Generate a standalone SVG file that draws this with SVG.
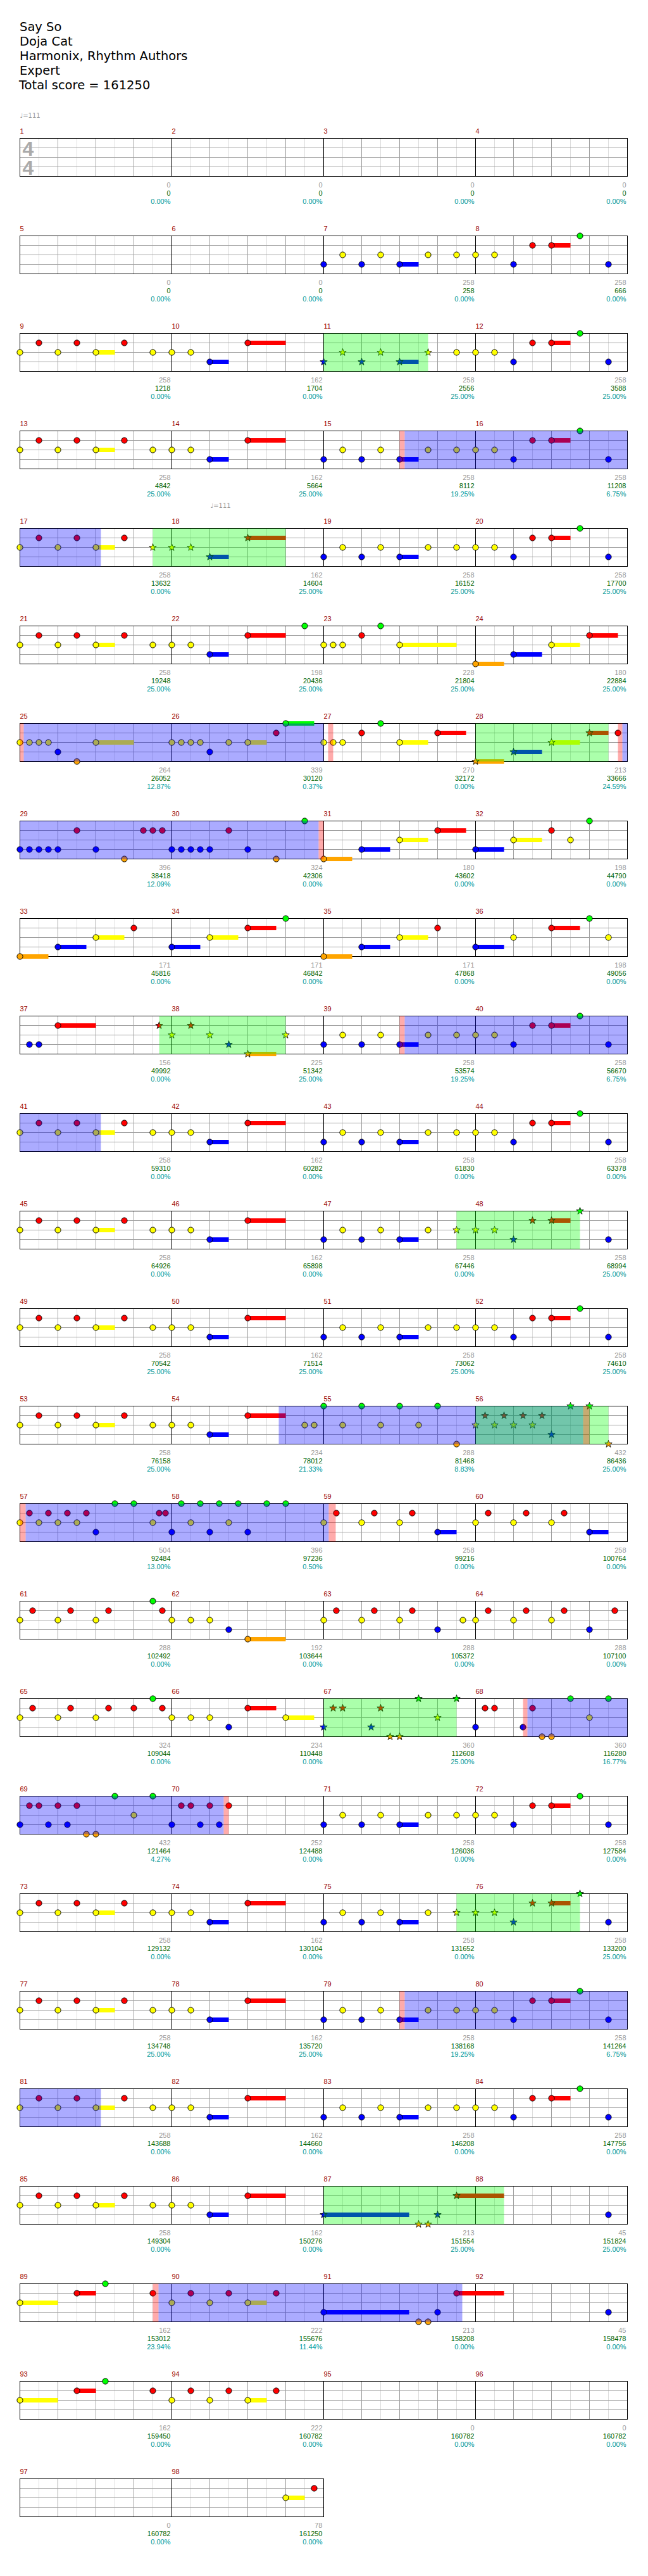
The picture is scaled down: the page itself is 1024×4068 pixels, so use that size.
<svg xmlns="http://www.w3.org/2000/svg" xmlns:xlink="http://www.w3.org/1999/xlink" width="1024" height="4068" viewBox="0 0 1024 4068">
<style>
.t{font:19.5px "DejaVu Sans",sans-serif;fill:#000}
.tp{font:10px "DejaVu Sans",sans-serif;fill:#999}
.ts{font:bold 32px "Liberation Sans",Arial,sans-serif;fill:#aaa}
.ml{font:11px "Liberation Sans",Arial,sans-serif;fill:#900}
.n{font:11px "Liberation Sans",Arial,sans-serif;text-anchor:end}
.a{fill:#999}.s{fill:#006400}.p{fill:#099}
.sr{stroke:#f00;stroke-width:7}.sy{stroke:#ff0;stroke-width:7}.sb{stroke:#00f;stroke-width:7}.sk{stroke:#ffa500;stroke-width:7}.sg{stroke:#0f0;stroke-width:7}
.solo{fill:#00f;fill-opacity:.33}.spr{fill:#0f0;fill-opacity:.33}.pk{fill:#f00;fill-opacity:.33}
</style>
<defs>
<g id="staff4">
<rect width="960" height="60" fill="#fff"/>
<path d="M30 0v60M90 0v60M150 0v60M210 0v60M270 0v60M330 0v60M390 0v60M450 0v60M510 0v60M570 0v60M630 0v60M690 0v60M750 0v60M810 0v60M870 0v60M930 0v60" stroke="#ddd"/>
<path d="M0 15h960M0 30h960M0 45h960M60 0v60M120 0v60M180 0v60M300 0v60M360 0v60M420 0v60M540 0v60M600 0v60M660 0v60M780 0v60M840 0v60M900 0v60" stroke="#a0a0a0"/>
<path d="M240 0v60M480 0v60M720 0v60" stroke="#000"/>
<rect width="960" height="60" fill="none" stroke="#000"/>
</g>
<g id="staff2">
<rect width="480" height="60" fill="#fff"/>
<path d="M30 0v60M90 0v60M150 0v60M210 0v60M270 0v60M330 0v60M390 0v60M450 0v60" stroke="#ddd"/>
<path d="M0 15h480M0 30h480M0 45h480M60 0v60M120 0v60M180 0v60M300 0v60M360 0v60M420 0v60" stroke="#a0a0a0"/>
<path d="M240 0v60" stroke="#000"/>
<rect width="480" height="60" fill="none" stroke="#000"/>
</g>
<circle id="G" r="4.6" fill="#0f0" stroke="#000"/>
<circle id="R" cy="15" r="4.6" fill="#f00" stroke="#000"/>
<circle id="Y" cy="30" r="4.6" fill="#ff0" stroke="#000"/>
<circle id="B" cy="45" r="4.6" fill="#00f" stroke="#000"/>
<circle id="O" cy="60" r="4.6" fill="#ffa500" stroke="#000"/>
<path id="st" d="M0,-6L1.41,-1.94L5.71,-1.85L2.28,0.74L3.53,4.85L0,2.4L-3.53,4.85L-2.28,0.74L-5.71,-1.85L-1.41,-1.94Z" stroke="#000" stroke-width="0.8"/>
<use id="sG" href="#st" fill="#0f0"/>
<use id="sR" href="#st" y="15" fill="#f00"/>
<use id="sY" href="#st" y="30" fill="#ff0"/>
<use id="sB" href="#st" y="45" fill="#00f"/>
<use id="sO" href="#st" y="60" fill="#ffa500"/>
<g id="P1">
<path class="sy" d="M120 30h30"/><path class="sb" d="M300 45h30"/><path class="sr" d="M360 15h60"/>
<use href="#Y"/><use href="#R" x="30"/><use href="#Y" x="60"/><use href="#R" x="90"/><use href="#Y" x="120"/><use href="#R" x="165"/><use href="#Y" x="210"/><use href="#Y" x="240"/><use href="#Y" x="270"/><use href="#B" x="300"/><use href="#R" x="360"/>
</g>
<g id="P2">
<path class="sb" d="M120 45h30"/><path class="sr" d="M360 15h30"/>
<use href="#B"/><use href="#Y" x="30"/><use href="#B" x="60"/><use href="#Y" x="90"/><use href="#B" x="120"/><use href="#Y" x="165"/><use href="#Y" x="210"/><use href="#Y" x="240"/><use href="#Y" x="270"/><use href="#B" x="300"/><use href="#R" x="330"/><use href="#R" x="360"/><use href="#G" x="405"/><use href="#B" x="450"/>
</g>
<g id="H12">
<path class="sb" d="M600 45h30"/><path class="sr" d="M840 15h30"/>
<use href="#B" x="480"/><use href="#Y" x="510"/><use href="#B" x="540"/><use href="#Y" x="570"/><use href="#B" x="600"/><use href="#Y" x="645"/>
<use href="#sY" x="690"/><use href="#sY" x="720"/><use href="#sY" x="750"/><use href="#sB" x="780"/><use href="#sR" x="810"/><use href="#sR" x="840"/><use href="#sG" x="885"/><use href="#B" x="930"/>
<rect class="spr" x="690" width="195" height="60"/>
</g>
</defs>
<rect width="1024" height="4068" fill="#fff"/>
<g id="header">
<text class="t" x="31" y="49">Say So</text>
<text class="t" x="31" y="72">Doja Cat</text>
<text class="t" x="31" y="95">Harmonix, Rhythm Authors</text>
<text class="t" x="31" y="118">Expert</text>
<text class="t" x="30" y="141">Total score = 161250</text>
</g>

<g id="row1" transform="translate(31.5 218.5)">
<use href="#staff4"/>
<text class="ts" x="4" y="27">4</text><text class="ts" x="4" y="57">4</text>
<text class="tp" x="0" y="-33">♩=111</text>
<text class="ml" x="0" y="-8">1</text><text class="ml" x="240" y="-8">2</text><text class="ml" x="480" y="-8">3</text><text class="ml" x="720" y="-8">4</text>
<g class="n"><text class="a" x="238" y="77">0</text><text class="s" x="238" y="90">0</text><text class="p" x="238" y="103">0.00%</text><text class="a" x="478" y="77">0</text><text class="s" x="478" y="90">0</text><text class="p" x="478" y="103">0.00%</text><text class="a" x="718" y="77">0</text><text class="s" x="718" y="90">0</text><text class="p" x="718" y="103">0.00%</text><text class="a" x="958" y="77">0</text><text class="s" x="958" y="90">0</text><text class="p" x="958" y="103">0.00%</text></g>
</g>

<g id="row2" transform="translate(31.5 372.5)">
<use href="#staff4"/>
<use href="#P2" x="480"/>
<text class="ml" x="0" y="-8">5</text><text class="ml" x="240" y="-8">6</text><text class="ml" x="480" y="-8">7</text><text class="ml" x="720" y="-8">8</text>
<g class="n"><text class="a" x="238" y="77">0</text><text class="s" x="238" y="90">0</text><text class="p" x="238" y="103">0.00%</text><text class="a" x="478" y="77">0</text><text class="s" x="478" y="90">0</text><text class="p" x="478" y="103">0.00%</text><text class="a" x="718" y="77">258</text><text class="s" x="718" y="90">258</text><text class="p" x="718" y="103">0.00%</text><text class="a" x="958" y="77">258</text><text class="s" x="958" y="90">666</text><text class="p" x="958" y="103">0.00%</text></g>
</g>

<g id="row3" transform="translate(31.5 526.5)">
<use href="#staff4"/>
<use href="#P1"/>
<path class="sb" d="M600 45h30"/><path class="sr" d="M840 15h30"/>
<use href="#sB" x="480"/><use href="#sY" x="510"/><use href="#sB" x="540"/><use href="#sY" x="570"/><use href="#sB" x="600"/><use href="#sY" x="645"/>
<use href="#Y" x="690"/><use href="#Y" x="720"/><use href="#Y" x="750"/><use href="#B" x="780"/><use href="#R" x="810"/><use href="#R" x="840"/><use href="#G" x="885"/><use href="#B" x="930"/>
<rect class="spr" x="480" width="165" height="60"/>
<text class="ml" x="0" y="-8">9</text><text class="ml" x="240" y="-8">10</text><text class="ml" x="480" y="-8">11</text><text class="ml" x="720" y="-8">12</text>
<g class="n"><text class="a" x="238" y="77">258</text><text class="s" x="238" y="90">1218</text><text class="p" x="238" y="103">0.00%</text><text class="a" x="478" y="77">162</text><text class="s" x="478" y="90">1704</text><text class="p" x="478" y="103">0.00%</text><text class="a" x="718" y="77">258</text><text class="s" x="718" y="90">2556</text><text class="p" x="718" y="103">25.00%</text><text class="a" x="958" y="77">258</text><text class="s" x="958" y="90">3588</text><text class="p" x="958" y="103">25.00%</text></g>
</g>

<g id="row4" transform="translate(31.5 680.5)">
<use href="#staff4"/>
<use href="#P1"/><use href="#P2" x="480"/>
<rect class="pk" x="600" width="8" height="60"/><rect class="solo" x="608" width="352" height="60"/>
<text class="ml" x="0" y="-8">13</text><text class="ml" x="240" y="-8">14</text><text class="ml" x="480" y="-8">15</text><text class="ml" x="720" y="-8">16</text>
<g class="n"><text class="a" x="238" y="77">258</text><text class="s" x="238" y="90">4842</text><text class="p" x="238" y="103">25.00%</text><text class="a" x="478" y="77">162</text><text class="s" x="478" y="90">5664</text><text class="p" x="478" y="103">25.00%</text><text class="a" x="718" y="77">258</text><text class="s" x="718" y="90">8112</text><text class="p" x="718" y="103">19.25%</text><text class="a" x="958" y="77">258</text><text class="s" x="958" y="90">11208</text><text class="p" x="958" y="103">6.75%</text></g>
</g>

<g id="row5" transform="translate(31.5 834.5)">
<use href="#staff4"/>
<text class="tp" x="301" y="-33">♩=111</text>
<path class="sy" d="M120 30h30"/><path class="sb" d="M300 45h30"/><path class="sr" d="M360 15h60"/>
<use href="#Y"/><use href="#R" x="30"/><use href="#Y" x="60"/><use href="#R" x="90"/><use href="#Y" x="120"/><use href="#R" x="165"/>
<use href="#sY" x="210"/><use href="#sY" x="240"/><use href="#sY" x="270"/><use href="#sB" x="300"/><use href="#sR" x="360"/>
<use href="#P2" x="480"/>
<rect class="solo" x="0" width="128" height="60"/><rect class="spr" x="210" width="210" height="60"/>
<text class="ml" x="0" y="-8">17</text><text class="ml" x="240" y="-8">18</text><text class="ml" x="480" y="-8">19</text><text class="ml" x="720" y="-8">20</text>
<g class="n"><text class="a" x="238" y="77">258</text><text class="s" x="238" y="90">13632</text><text class="p" x="238" y="103">0.00%</text><text class="a" x="478" y="77">162</text><text class="s" x="478" y="90">14604</text><text class="p" x="478" y="103">25.00%</text><text class="a" x="718" y="77">258</text><text class="s" x="718" y="90">16152</text><text class="p" x="718" y="103">25.00%</text><text class="a" x="958" y="77">258</text><text class="s" x="958" y="90">17700</text><text class="p" x="958" y="103">25.00%</text></g>
</g>

<g id="row6" transform="translate(31.5 988.5)">
<use href="#staff4"/>
<use href="#P1"/><use href="#G" x="450"/>
<path class="sy" d="M600 30h90"/><path class="sk" d="M720 60h45"/><path class="sb" d="M780 45h45"/><path class="sy" d="M840 30h45"/><path class="sr" d="M900 15h45"/>
<use href="#Y" x="480"/><use href="#Y" x="495"/><use href="#Y" x="510"/><use href="#R" x="540"/><use href="#G" x="570"/><use href="#Y" x="600"/><use href="#O" x="720"/><use href="#B" x="780"/><use href="#Y" x="840"/><use href="#R" x="900"/>
<text class="ml" x="0" y="-8">21</text><text class="ml" x="240" y="-8">22</text><text class="ml" x="480" y="-8">23</text><text class="ml" x="720" y="-8">24</text>
<g class="n"><text class="a" x="238" y="77">258</text><text class="s" x="238" y="90">19248</text><text class="p" x="238" y="103">25.00%</text><text class="a" x="478" y="77">198</text><text class="s" x="478" y="90">20436</text><text class="p" x="478" y="103">25.00%</text><text class="a" x="718" y="77">228</text><text class="s" x="718" y="90">21804</text><text class="p" x="718" y="103">25.00%</text><text class="a" x="958" y="77">180</text><text class="s" x="958" y="90">22884</text><text class="p" x="958" y="103">25.00%</text></g>
</g>

<g id="row7" transform="translate(31.5 1142.5)">
<use href="#staff4"/>
<path class="sy" d="M120 30h60"/><path class="sy" d="M360 30h30"/><path class="sg" d="M420 0h45"/><path class="sy" d="M600 30h45"/><path class="sr" d="M660 15h45"/><path class="sk" d="M720 60h45"/><path class="sb" d="M780 45h45"/><path class="sy" d="M840 30h45"/><path class="sr" d="M900 15h30"/>
<use href="#Y"/><use href="#Y" x="15"/><use href="#Y" x="30"/><use href="#Y" x="45"/><use href="#B" x="60"/><use href="#O" x="90"/><use href="#Y" x="120"/><use href="#Y" x="240"/><use href="#Y" x="255"/><use href="#Y" x="270"/><use href="#Y" x="285"/><use href="#B" x="300"/><use href="#Y" x="330"/><use href="#Y" x="360"/><use href="#R" x="405"/><use href="#G" x="420"/>
<use href="#Y" x="480"/><use href="#Y" x="495"/><use href="#Y" x="510"/><use href="#R" x="540"/><use href="#G" x="570"/><use href="#Y" x="600"/><use href="#R" x="660"/>
<use href="#sO" x="720"/><use href="#sB" x="780"/><use href="#sY" x="840"/><use href="#sR" x="900"/><use href="#R" x="945"/>
<rect class="pk" x="0" width="6" height="60"/><rect class="solo" x="6" width="474" height="60"/><rect class="pk" x="487" width="8" height="60"/><rect class="spr" x="720" width="210" height="60"/><rect class="pk" x="945" width="7" height="60"/><rect class="solo" x="952" width="8" height="60"/>
<text class="ml" x="0" y="-8">25</text><text class="ml" x="240" y="-8">26</text><text class="ml" x="480" y="-8">27</text><text class="ml" x="720" y="-8">28</text>
<g class="n"><text class="a" x="238" y="77">264</text><text class="s" x="238" y="90">26052</text><text class="p" x="238" y="103">12.87%</text><text class="a" x="478" y="77">339</text><text class="s" x="478" y="90">30120</text><text class="p" x="478" y="103">0.37%</text><text class="a" x="718" y="77">270</text><text class="s" x="718" y="90">32172</text><text class="p" x="718" y="103">0.00%</text><text class="a" x="958" y="77">213</text><text class="s" x="958" y="90">33666</text><text class="p" x="958" y="103">24.59%</text></g>
</g>

<g id="row8" transform="translate(31.5 1296.5)">
<use href="#staff4"/>
<path class="sk" d="M480 60h45"/><path class="sb" d="M540 45h45"/><path class="sy" d="M600 30h45"/><path class="sr" d="M660 15h45"/><path class="sb" d="M720 45h45"/><path class="sy" d="M780 30h45"/>
<use href="#B"/><use href="#B" x="15"/><use href="#B" x="30"/><use href="#B" x="45"/><use href="#B" x="60"/><use href="#R" x="90"/><use href="#B" x="120"/><use href="#O" x="165"/><use href="#R" x="195"/><use href="#R" x="210"/><use href="#R" x="225"/><use href="#B" x="240"/><use href="#B" x="255"/><use href="#B" x="270"/><use href="#B" x="285"/><use href="#B" x="300"/><use href="#R" x="330"/><use href="#B" x="360"/><use href="#O" x="405"/><use href="#G" x="450"/>
<use href="#O" x="480"/><use href="#B" x="540"/><use href="#Y" x="600"/><use href="#R" x="660"/><use href="#B" x="720"/><use href="#Y" x="780"/><use href="#R" x="840"/><use href="#Y" x="870"/><use href="#G" x="900"/>
<rect class="solo" x="0" width="472" height="60"/><rect class="pk" x="472" width="8" height="60"/>
<text class="ml" x="0" y="-8">29</text><text class="ml" x="240" y="-8">30</text><text class="ml" x="480" y="-8">31</text><text class="ml" x="720" y="-8">32</text>
<g class="n"><text class="a" x="238" y="77">396</text><text class="s" x="238" y="90">38418</text><text class="p" x="238" y="103">12.09%</text><text class="a" x="478" y="77">324</text><text class="s" x="478" y="90">42306</text><text class="p" x="478" y="103">0.00%</text><text class="a" x="718" y="77">180</text><text class="s" x="718" y="90">43602</text><text class="p" x="718" y="103">0.00%</text><text class="a" x="958" y="77">198</text><text class="s" x="958" y="90">44790</text><text class="p" x="958" y="103">0.00%</text></g>
</g>

<g id="row9" transform="translate(31.5 1450.5)">
<use href="#staff4"/>
<path class="sk" d="M0 60h45"/><path class="sb" d="M60 45h45"/><path class="sy" d="M120 30h45"/><path class="sb" d="M240 45h45"/><path class="sy" d="M300 30h45"/><path class="sr" d="M360 15h45"/><path class="sk" d="M480 60h45"/><path class="sb" d="M540 45h45"/><path class="sy" d="M600 30h45"/><path class="sb" d="M720 45h45"/><path class="sr" d="M840 15h45"/>
<use href="#O"/><use href="#B" x="60"/><use href="#Y" x="120"/><use href="#R" x="180"/><use href="#B" x="240"/><use href="#Y" x="300"/><use href="#R" x="360"/><use href="#G" x="420"/><use href="#O" x="480"/><use href="#B" x="540"/><use href="#Y" x="600"/><use href="#R" x="660"/><use href="#B" x="720"/><use href="#Y" x="780"/><use href="#R" x="840"/><use href="#G" x="900"/><use href="#Y" x="930"/>
<text class="ml" x="0" y="-8">33</text><text class="ml" x="240" y="-8">34</text><text class="ml" x="480" y="-8">35</text><text class="ml" x="720" y="-8">36</text>
<g class="n"><text class="a" x="238" y="77">171</text><text class="s" x="238" y="90">45816</text><text class="p" x="238" y="103">0.00%</text><text class="a" x="478" y="77">171</text><text class="s" x="478" y="90">46842</text><text class="p" x="478" y="103">0.00%</text><text class="a" x="718" y="77">171</text><text class="s" x="718" y="90">47868</text><text class="p" x="718" y="103">0.00%</text><text class="a" x="958" y="77">198</text><text class="s" x="958" y="90">49056</text><text class="p" x="958" y="103">0.00%</text></g>
</g>

<g id="row10" transform="translate(31.5 1604.5)">
<use href="#staff4"/>
<path class="sr" d="M60 15h60"/><path class="sk" d="M360 60h45"/>
<use href="#B" x="15"/><use href="#B" x="30"/><use href="#R" x="60"/>
<use href="#sR" x="220"/><use href="#sY" x="240"/><use href="#sR" x="270"/><use href="#sY" x="300"/><use href="#sB" x="330"/><use href="#sO" x="360"/><use href="#sY" x="420"/>
<use href="#P2" x="480"/>
<rect class="spr" x="220" width="200" height="60"/><rect class="pk" x="600" width="8" height="60"/><rect class="solo" x="608" width="352" height="60"/>
<text class="ml" x="0" y="-8">37</text><text class="ml" x="240" y="-8">38</text><text class="ml" x="480" y="-8">39</text><text class="ml" x="720" y="-8">40</text>
<g class="n"><text class="a" x="238" y="77">156</text><text class="s" x="238" y="90">49992</text><text class="p" x="238" y="103">0.00%</text><text class="a" x="478" y="77">225</text><text class="s" x="478" y="90">51342</text><text class="p" x="478" y="103">25.00%</text><text class="a" x="718" y="77">258</text><text class="s" x="718" y="90">53574</text><text class="p" x="718" y="103">19.25%</text><text class="a" x="958" y="77">258</text><text class="s" x="958" y="90">56670</text><text class="p" x="958" y="103">6.75%</text></g>
</g>

<g id="row11" transform="translate(31.5 1758.5)">
<use href="#staff4"/>
<use href="#P1"/><use href="#P2" x="480"/>
<rect class="solo" x="0" width="128" height="60"/>
<text class="ml" x="0" y="-8">41</text><text class="ml" x="240" y="-8">42</text><text class="ml" x="480" y="-8">43</text><text class="ml" x="720" y="-8">44</text>
<g class="n"><text class="a" x="238" y="77">258</text><text class="s" x="238" y="90">59310</text><text class="p" x="238" y="103">0.00%</text><text class="a" x="478" y="77">162</text><text class="s" x="478" y="90">60282</text><text class="p" x="478" y="103">0.00%</text><text class="a" x="718" y="77">258</text><text class="s" x="718" y="90">61830</text><text class="p" x="718" y="103">0.00%</text><text class="a" x="958" y="77">258</text><text class="s" x="958" y="90">63378</text><text class="p" x="958" y="103">0.00%</text></g>
</g>

<g id="row12" transform="translate(31.5 1912.5)">
<use href="#staff4"/>
<use href="#P1"/><use href="#H12"/>
<text class="ml" x="0" y="-8">45</text><text class="ml" x="240" y="-8">46</text><text class="ml" x="480" y="-8">47</text><text class="ml" x="720" y="-8">48</text>
<g class="n"><text class="a" x="238" y="77">258</text><text class="s" x="238" y="90">64926</text><text class="p" x="238" y="103">0.00%</text><text class="a" x="478" y="77">162</text><text class="s" x="478" y="90">65898</text><text class="p" x="478" y="103">0.00%</text><text class="a" x="718" y="77">258</text><text class="s" x="718" y="90">67446</text><text class="p" x="718" y="103">0.00%</text><text class="a" x="958" y="77">258</text><text class="s" x="958" y="90">68994</text><text class="p" x="958" y="103">25.00%</text></g>
</g>

<g id="row13" transform="translate(31.5 2066.5)">
<use href="#staff4"/>
<use href="#P1"/><use href="#P2" x="480"/>
<text class="ml" x="0" y="-8">49</text><text class="ml" x="240" y="-8">50</text><text class="ml" x="480" y="-8">51</text><text class="ml" x="720" y="-8">52</text>
<g class="n"><text class="a" x="238" y="77">258</text><text class="s" x="238" y="90">70542</text><text class="p" x="238" y="103">25.00%</text><text class="a" x="478" y="77">162</text><text class="s" x="478" y="90">71514</text><text class="p" x="478" y="103">25.00%</text><text class="a" x="718" y="77">258</text><text class="s" x="718" y="90">73062</text><text class="p" x="718" y="103">25.00%</text><text class="a" x="958" y="77">258</text><text class="s" x="958" y="90">74610</text><text class="p" x="958" y="103">25.00%</text></g>
</g>

<g id="row14" transform="translate(31.5 2220.5)">
<use href="#staff4"/>
<use href="#P1"/>
<use href="#Y" x="450"/><use href="#Y" x="465"/><use href="#G" x="480"/><use href="#Y" x="510"/><use href="#G" x="540"/><use href="#Y" x="570"/><use href="#G" x="600"/><use href="#Y" x="630"/><use href="#G" x="660"/><use href="#O" x="690"/>
<use href="#sY" x="720"/><use href="#sR" x="735"/><use href="#sY" x="750"/><use href="#sR" x="765"/><use href="#sY" x="780"/><use href="#sR" x="795"/><use href="#sY" x="810"/><use href="#sR" x="825"/><use href="#sB" x="840"/><use href="#sG" x="870"/><use href="#sG" x="900"/><use href="#sO" x="930"/>
<rect class="solo" x="409" width="481" height="60"/><rect class="spr" x="720" width="210" height="60"/><rect class="pk" x="890" width="10" height="60"/>
<text class="ml" x="0" y="-8">53</text><text class="ml" x="240" y="-8">54</text><text class="ml" x="480" y="-8">55</text><text class="ml" x="720" y="-8">56</text>
<g class="n"><text class="a" x="238" y="77">258</text><text class="s" x="238" y="90">76158</text><text class="p" x="238" y="103">25.00%</text><text class="a" x="478" y="77">234</text><text class="s" x="478" y="90">78012</text><text class="p" x="478" y="103">21.33%</text><text class="a" x="718" y="77">288</text><text class="s" x="718" y="90">81468</text><text class="p" x="718" y="103">8.83%</text><text class="a" x="958" y="77">432</text><text class="s" x="958" y="90">86436</text><text class="p" x="958" y="103">25.00%</text></g>
</g>

<g id="row15" transform="translate(31.5 2374.5)">
<use href="#staff4"/>
<path class="sb" d="M660 45h30"/><path class="sb" d="M900 45h30"/>
<use href="#Y"/><use href="#R" x="15"/><use href="#Y" x="30"/><use href="#R" x="45"/><use href="#Y" x="60"/><use href="#R" x="75"/><use href="#Y" x="90"/><use href="#R" x="105"/><use href="#B" x="120"/><use href="#G" x="150"/><use href="#G" x="180"/><use href="#Y" x="210"/><use href="#R" x="220"/><use href="#R" x="230"/><use href="#B" x="240"/><use href="#G" x="255"/><use href="#Y" x="270"/><use href="#G" x="285"/><use href="#B" x="300"/><use href="#G" x="315"/><use href="#Y" x="330"/><use href="#G" x="345"/><use href="#B" x="360"/><use href="#G" x="390"/><use href="#G" x="420"/>
<use href="#Y" x="480"/><use href="#R" x="500"/><use href="#Y" x="540"/><use href="#R" x="560"/><use href="#Y" x="600"/><use href="#R" x="620"/><use href="#B" x="660"/><use href="#Y" x="720"/><use href="#R" x="740"/><use href="#Y" x="780"/><use href="#R" x="800"/><use href="#Y" x="840"/><use href="#R" x="860"/><use href="#B" x="900"/>
<rect class="pk" x="0" width="9" height="60"/><rect class="solo" x="9" width="479" height="60"/><rect class="pk" x="488" width="11" height="60"/>
<text class="ml" x="0" y="-8">57</text><text class="ml" x="240" y="-8">58</text><text class="ml" x="480" y="-8">59</text><text class="ml" x="720" y="-8">60</text>
<g class="n"><text class="a" x="238" y="77">504</text><text class="s" x="238" y="90">92484</text><text class="p" x="238" y="103">13.00%</text><text class="a" x="478" y="77">396</text><text class="s" x="478" y="90">97236</text><text class="p" x="478" y="103">0.50%</text><text class="a" x="718" y="77">258</text><text class="s" x="718" y="90">99216</text><text class="p" x="718" y="103">0.00%</text><text class="a" x="958" y="77">258</text><text class="s" x="958" y="90">100764</text><text class="p" x="958" y="103">0.00%</text></g>
</g>

<g id="row16" transform="translate(31.5 2528.5)">
<use href="#staff4"/>
<path class="sk" d="M360 60h60"/>
<use href="#Y"/><use href="#R" x="20"/><use href="#Y" x="60"/><use href="#R" x="80"/><use href="#Y" x="120"/><use href="#R" x="140"/><use href="#G" x="210"/><use href="#R" x="225"/><use href="#Y" x="240"/><use href="#Y" x="270"/><use href="#Y" x="300"/><use href="#B" x="330"/><use href="#O" x="360"/>
<use href="#Y" x="480"/><use href="#R" x="500"/><use href="#Y" x="540"/><use href="#R" x="560"/><use href="#Y" x="600"/><use href="#R" x="620"/><use href="#B" x="660"/><use href="#Y" x="700"/><use href="#Y" x="720"/><use href="#R" x="740"/><use href="#Y" x="780"/><use href="#R" x="800"/><use href="#Y" x="840"/><use href="#R" x="860"/><use href="#B" x="900"/><use href="#R" x="940"/>
<text class="ml" x="0" y="-8">61</text><text class="ml" x="240" y="-8">62</text><text class="ml" x="480" y="-8">63</text><text class="ml" x="720" y="-8">64</text>
<g class="n"><text class="a" x="238" y="77">288</text><text class="s" x="238" y="90">102492</text><text class="p" x="238" y="103">0.00%</text><text class="a" x="478" y="77">192</text><text class="s" x="478" y="90">103644</text><text class="p" x="478" y="103">0.00%</text><text class="a" x="718" y="77">288</text><text class="s" x="718" y="90">105372</text><text class="p" x="718" y="103">0.00%</text><text class="a" x="958" y="77">288</text><text class="s" x="958" y="90">107100</text><text class="p" x="958" y="103">0.00%</text></g>
</g>

<g id="row17" transform="translate(31.5 2682.5)">
<use href="#staff4"/>
<path class="sr" d="M360 15h45"/><path class="sy" d="M420 30h45"/>
<use href="#Y"/><use href="#R" x="20"/><use href="#Y" x="60"/><use href="#R" x="80"/><use href="#Y" x="120"/><use href="#R" x="140"/><use href="#R" x="180"/><use href="#G" x="210"/><use href="#R" x="225"/><use href="#Y" x="240"/><use href="#Y" x="270"/><use href="#Y" x="300"/><use href="#B" x="330"/><use href="#R" x="360"/><use href="#Y" x="420"/>
<use href="#sB" x="480"/><use href="#sR" x="495"/><use href="#sR" x="510"/><use href="#sB" x="555"/><use href="#sR" x="570"/><use href="#sO" x="585"/><use href="#sO" x="600"/><use href="#sG" x="630"/><use href="#sY" x="660"/><use href="#sG" x="690"/>
<use href="#B" x="720"/><use href="#R" x="735"/><use href="#R" x="750"/><use href="#B" x="795"/><use href="#R" x="810"/><use href="#O" x="825"/><use href="#O" x="840"/><use href="#G" x="870"/><use href="#Y" x="900"/><use href="#G" x="930"/>
<rect class="spr" x="480" width="210" height="60"/><rect class="pk" x="795" width="7" height="60"/><rect class="solo" x="802" width="158" height="60"/>
<text class="ml" x="0" y="-8">65</text><text class="ml" x="240" y="-8">66</text><text class="ml" x="480" y="-8">67</text><text class="ml" x="720" y="-8">68</text>
<g class="n"><text class="a" x="238" y="77">324</text><text class="s" x="238" y="90">109044</text><text class="p" x="238" y="103">0.00%</text><text class="a" x="478" y="77">234</text><text class="s" x="478" y="90">110448</text><text class="p" x="478" y="103">0.00%</text><text class="a" x="718" y="77">360</text><text class="s" x="718" y="90">112608</text><text class="p" x="718" y="103">25.00%</text><text class="a" x="958" y="77">360</text><text class="s" x="958" y="90">116280</text><text class="p" x="958" y="103">16.77%</text></g>
</g>

<g id="row18" transform="translate(31.5 2836.5)">
<use href="#staff4"/>
<use href="#B"/><use href="#R" x="15"/><use href="#R" x="30"/><use href="#B" x="45"/><use href="#R" x="60"/><use href="#B" x="75"/><use href="#R" x="90"/><use href="#O" x="105"/><use href="#O" x="120"/><use href="#G" x="150"/><use href="#Y" x="180"/><use href="#G" x="210"/><use href="#B" x="240"/><use href="#R" x="255"/><use href="#R" x="270"/><use href="#B" x="285"/><use href="#R" x="300"/><use href="#B" x="315"/><use href="#R" x="330"/>
<use href="#P2" x="480"/>
<rect class="solo" x="0" width="322" height="60"/><rect class="pk" x="322" width="8" height="60"/>
<text class="ml" x="0" y="-8">69</text><text class="ml" x="240" y="-8">70</text><text class="ml" x="480" y="-8">71</text><text class="ml" x="720" y="-8">72</text>
<g class="n"><text class="a" x="238" y="77">432</text><text class="s" x="238" y="90">121464</text><text class="p" x="238" y="103">4.27%</text><text class="a" x="478" y="77">252</text><text class="s" x="478" y="90">124488</text><text class="p" x="478" y="103">0.00%</text><text class="a" x="718" y="77">258</text><text class="s" x="718" y="90">126036</text><text class="p" x="718" y="103">0.00%</text><text class="a" x="958" y="77">258</text><text class="s" x="958" y="90">127584</text><text class="p" x="958" y="103">0.00%</text></g>
</g>

<g id="row19" transform="translate(31.5 2990.5)">
<use href="#staff4"/>
<use href="#P1"/><use href="#H12"/>
<text class="ml" x="0" y="-8">73</text><text class="ml" x="240" y="-8">74</text><text class="ml" x="480" y="-8">75</text><text class="ml" x="720" y="-8">76</text>
<g class="n"><text class="a" x="238" y="77">258</text><text class="s" x="238" y="90">129132</text><text class="p" x="238" y="103">0.00%</text><text class="a" x="478" y="77">162</text><text class="s" x="478" y="90">130104</text><text class="p" x="478" y="103">0.00%</text><text class="a" x="718" y="77">258</text><text class="s" x="718" y="90">131652</text><text class="p" x="718" y="103">0.00%</text><text class="a" x="958" y="77">258</text><text class="s" x="958" y="90">133200</text><text class="p" x="958" y="103">25.00%</text></g>
</g>

<g id="row20" transform="translate(31.5 3144.5)">
<use href="#staff4"/>
<use href="#P1"/><use href="#P2" x="480"/>
<rect class="pk" x="600" width="8" height="60"/><rect class="solo" x="608" width="352" height="60"/>
<text class="ml" x="0" y="-8">77</text><text class="ml" x="240" y="-8">78</text><text class="ml" x="480" y="-8">79</text><text class="ml" x="720" y="-8">80</text>
<g class="n"><text class="a" x="238" y="77">258</text><text class="s" x="238" y="90">134748</text><text class="p" x="238" y="103">25.00%</text><text class="a" x="478" y="77">162</text><text class="s" x="478" y="90">135720</text><text class="p" x="478" y="103">25.00%</text><text class="a" x="718" y="77">258</text><text class="s" x="718" y="90">138168</text><text class="p" x="718" y="103">19.25%</text><text class="a" x="958" y="77">258</text><text class="s" x="958" y="90">141264</text><text class="p" x="958" y="103">6.75%</text></g>
</g>

<g id="row21" transform="translate(31.5 3298.5)">
<use href="#staff4"/>
<use href="#P1"/><use href="#P2" x="480"/>
<rect class="solo" x="0" width="128" height="60"/>
<text class="ml" x="0" y="-8">81</text><text class="ml" x="240" y="-8">82</text><text class="ml" x="480" y="-8">83</text><text class="ml" x="720" y="-8">84</text>
<g class="n"><text class="a" x="238" y="77">258</text><text class="s" x="238" y="90">143688</text><text class="p" x="238" y="103">0.00%</text><text class="a" x="478" y="77">162</text><text class="s" x="478" y="90">144660</text><text class="p" x="478" y="103">0.00%</text><text class="a" x="718" y="77">258</text><text class="s" x="718" y="90">146208</text><text class="p" x="718" y="103">0.00%</text><text class="a" x="958" y="77">258</text><text class="s" x="958" y="90">147756</text><text class="p" x="958" y="103">0.00%</text></g>
</g>

<g id="row22" transform="translate(31.5 3452.5)">
<use href="#staff4"/>
<use href="#P1"/>
<path class="sb" d="M480 45h135"/><path class="sr" d="M690 15h75"/>
<use href="#sB" x="480"/><use href="#sO" x="630"/><use href="#sO" x="645"/><use href="#sB" x="660"/><use href="#sR" x="690"/><use href="#B" x="930"/>
<rect class="spr" x="480" width="285" height="60"/>
<text class="ml" x="0" y="-8">85</text><text class="ml" x="240" y="-8">86</text><text class="ml" x="480" y="-8">87</text><text class="ml" x="720" y="-8">88</text>
<g class="n"><text class="a" x="238" y="77">258</text><text class="s" x="238" y="90">149304</text><text class="p" x="238" y="103">0.00%</text><text class="a" x="478" y="77">162</text><text class="s" x="478" y="90">150276</text><text class="p" x="478" y="103">0.00%</text><text class="a" x="718" y="77">213</text><text class="s" x="718" y="90">151554</text><text class="p" x="718" y="103">25.00%</text><text class="a" x="958" y="77">45</text><text class="s" x="958" y="90">151824</text><text class="p" x="958" y="103">25.00%</text></g>
</g>

<g id="row23" transform="translate(31.5 3606.5)">
<use href="#staff4"/>
<path class="sy" d="M0 30h60"/><path class="sr" d="M90 15h30"/><path class="sy" d="M360 30h30"/><path class="sb" d="M480 45h135"/><path class="sr" d="M690 15h75"/>
<use href="#Y"/><use href="#R" x="90"/><use href="#G" x="135"/><use href="#R" x="210"/><use href="#Y" x="240"/><use href="#R" x="270"/><use href="#Y" x="300"/><use href="#R" x="330"/><use href="#Y" x="360"/><use href="#R" x="405"/><use href="#B" x="480"/><use href="#O" x="630"/><use href="#O" x="645"/><use href="#B" x="660"/><use href="#R" x="690"/><use href="#B" x="930"/>
<rect class="pk" x="210" width="9" height="60"/><rect class="solo" x="219" width="480" height="60"/>
<text class="ml" x="0" y="-8">89</text><text class="ml" x="240" y="-8">90</text><text class="ml" x="480" y="-8">91</text><text class="ml" x="720" y="-8">92</text>
<g class="n"><text class="a" x="238" y="77">162</text><text class="s" x="238" y="90">153012</text><text class="p" x="238" y="103">23.94%</text><text class="a" x="478" y="77">222</text><text class="s" x="478" y="90">155676</text><text class="p" x="478" y="103">11.44%</text><text class="a" x="718" y="77">213</text><text class="s" x="718" y="90">158208</text><text class="p" x="718" y="103">0.00%</text><text class="a" x="958" y="77">45</text><text class="s" x="958" y="90">158478</text><text class="p" x="958" y="103">0.00%</text></g>
</g>

<g id="row24" transform="translate(31.5 3760.5)">
<use href="#staff4"/>
<path class="sy" d="M0 30h60"/><path class="sr" d="M90 15h30"/><path class="sy" d="M360 30h30"/>
<use href="#Y"/><use href="#R" x="90"/><use href="#G" x="135"/><use href="#R" x="210"/><use href="#Y" x="240"/><use href="#R" x="270"/><use href="#Y" x="300"/><use href="#R" x="330"/><use href="#Y" x="360"/><use href="#R" x="405"/>
<text class="ml" x="0" y="-8">93</text><text class="ml" x="240" y="-8">94</text><text class="ml" x="480" y="-8">95</text><text class="ml" x="720" y="-8">96</text>
<g class="n"><text class="a" x="238" y="77">162</text><text class="s" x="238" y="90">159450</text><text class="p" x="238" y="103">0.00%</text><text class="a" x="478" y="77">222</text><text class="s" x="478" y="90">160782</text><text class="p" x="478" y="103">0.00%</text><text class="a" x="718" y="77">0</text><text class="s" x="718" y="90">160782</text><text class="p" x="718" y="103">0.00%</text><text class="a" x="958" y="77">0</text><text class="s" x="958" y="90">160782</text><text class="p" x="958" y="103">0.00%</text></g>
</g>

<g id="row25" transform="translate(31.5 3914.5)">
<use href="#staff2"/>
<path class="sy" d="M420 30h30"/>
<use href="#Y" x="420"/><use href="#R" x="465"/>
<text class="ml" x="0" y="-8">97</text><text class="ml" x="240" y="-8">98</text>
<g class="n"><text class="a" x="238" y="77">0</text><text class="s" x="238" y="90">160782</text><text class="p" x="238" y="103">0.00%</text><text class="a" x="478" y="77">78</text><text class="s" x="478" y="90">161250</text><text class="p" x="478" y="103">0.00%</text></g>
</g>
</svg>
